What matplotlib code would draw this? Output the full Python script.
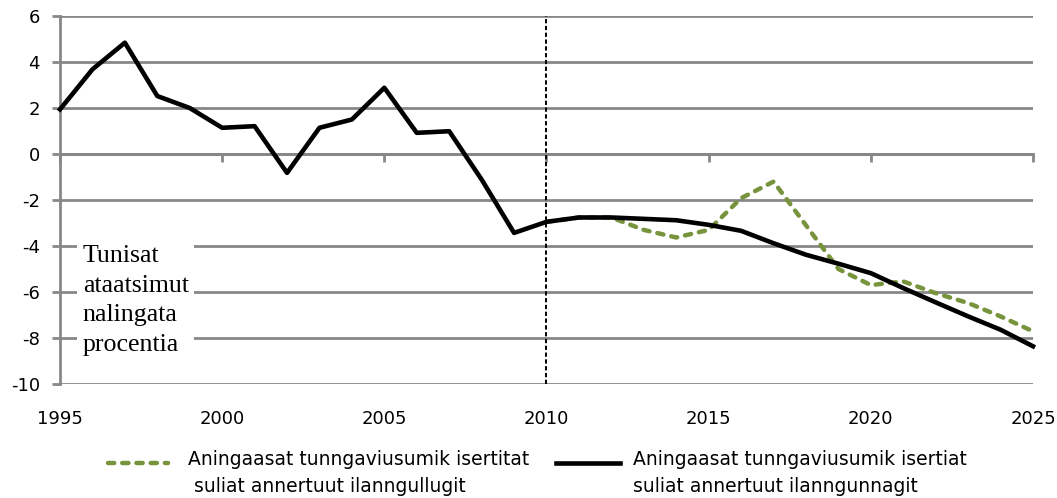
import numpy as np
import matplotlib
matplotlib.use("Agg")
import matplotlib.pyplot as plt
from matplotlib.legend_handler import HandlerLine2D

plt.rcParams['font.family'] = ['DejaVu Sans']
plt.rcParams['axes.unicode_minus'] = False

# ---- data ----
years_black = list(range(1995, 2026))
black_values = [1.94, 3.68, 4.84, 2.52, 2.00, 1.14, 1.21, -0.82, 1.14, 1.50,
                2.88, 0.92, 0.99, -1.11, -3.43,
                -2.95, -2.76, -2.76, -2.82, -2.88, -3.08, -3.34, -3.88, -4.38,
                -4.77, -5.18, -5.83, -6.45, -7.06, -7.64, -8.36]
years_green = list(range(2010, 2026))
green_values = [-2.95, -2.76, -2.76, -3.30, -3.63, -3.30, -1.92, -1.20, -3.10,
                -5.00, -5.70, -5.54, -6.05, -6.48, -7.06, -7.71]
x_ticks = [1995, 2000, 2005, 2010, 2015, 2020, 2025]
y_ticks = list(range(-10, 7, 2))
split_year = 2010
label_green = "Aningaasat tunngaviusumik isertitat\n suliat annertuut ilanngullugit"
label_black = "Aningaasat tunngaviusumik isertiat\nsuliat annertuut ilanngunnagit"
axis_note = "Tunisat\nataatsimut\nnalingata\nprocentia"

GRAY = '#878787'
GREEN = '#77933C'
W, H = 1057, 498

fig = plt.figure(figsize=(W/100, H/100), dpi=100)
ax = fig.add_axes([60/W, 1-384/H, (1033-60)/W, (384-16)/H])
ax.set_xlim(1995, 2025)
ax.set_ylim(-10, 6)
ax.set_yticks(y_ticks)
ax.set_xticks(x_ticks)
ax.grid(axis='y', color=GRAY, lw=2)
ax.set_axisbelow(True)
for s in ['top', 'right']:
    ax.spines[s].set_visible(False)
ax.spines['left'].set_color(GRAY)
ax.spines['left'].set_linewidth(2)
ax.spines['bottom'].set_position(('data', 0))
ax.spines['bottom'].set_color(GRAY)
ax.spines['bottom'].set_linewidth(2)
ax.tick_params(axis='y', direction='out', length=6, width=2, color=GRAY,
               labelsize=13, pad=8.5)
ax.tick_params(axis='x', direction='out', length=6, width=2, color=GRAY,
               labelbottom=False)

sec = ax.secondary_xaxis('bottom')
sec.set_xticks(x_ticks)
sec.tick_params(length=0, pad=19, labelsize=13)
sec.spines['bottom'].set_visible(False)

green_line, = ax.plot(years_green, green_values, color=GREEN, lw=3.2,
                      dashes=(1.4, 1.8), dash_capstyle='round', clip_on=False,
                      zorder=3)
black_line, = ax.plot(years_black, black_values, color='black', lw=3.3,
                      clip_on=False, zorder=4)
ax.axvline(split_year, color='black', lw=1.4, dashes=(2.2, 1.3), zorder=5)

ax.text(1995.7, -3.96, axis_note, family='Liberation Serif', fontsize=18.6,
        va='top', ha='left', linespacing=1.44,
        bbox=dict(boxstyle='square,pad=0.22', facecolor='white',
                  edgecolor='none'))

OFFSET = 8.0
def _shift(handle, orig):
    handle.update_from(orig)
    handle.set_ydata(np.asarray(handle.get_ydata()) + OFFSET)

common = dict(loc='upper left', bbox_transform=fig.transFigure, frameon=False,
              borderpad=0, borderaxespad=0, fontsize=13.5)
leg1 = ax.legend([green_line], [label_green],
                 bbox_to_anchor=(108/W, 1-450/H),
                 handlelength=3.2, handletextpad=1.05,
                 handler_map={green_line: HandlerLine2D(update_func=_shift)},
                 **common)
ax.add_artist(leg1)
leg2 = ax.legend([black_line], [label_black],
                 bbox_to_anchor=(556/W, 1-450/H),
                 handlelength=3.4, handletextpad=0.7,
                 handler_map={black_line: HandlerLine2D(update_func=_shift)},
                 **common)
for lg in (leg1, leg2):
    for t in lg.get_texts():
        t.set_linespacing(1.5)

fig.savefig('out.png', dpi=100)
